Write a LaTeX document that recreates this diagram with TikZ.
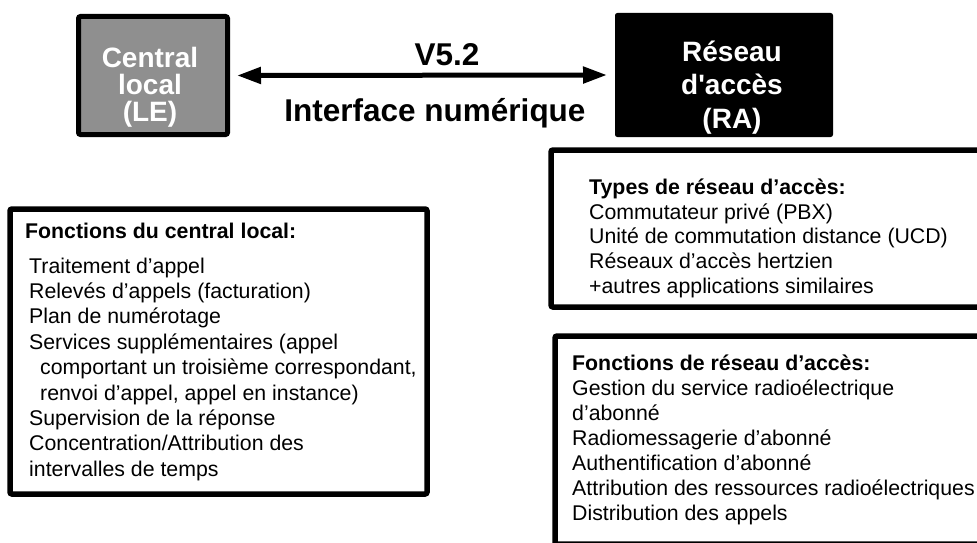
\documentclass[tikz,border=0pt]{standalone}
\usepackage{fontspec}
\setmainfont{Liberation Sans}
\usetikzlibrary{arrows.meta}
\definecolor{legray}{RGB}{143,143,143}
\begin{document}
\begin{tikzpicture}[x=1pt,y=-1pt,
  txt/.style={anchor=base west,inner sep=0pt,font=\fontsize{21.3}{25}\selectfont},
  hdr/.style={anchor=base west,inner sep=0pt,font=\fontsize{21.3}{25}\selectfont\bfseries},
  frame/.style={draw=black,line width=5.5pt,rounded corners=2pt,outer sep=0pt,anchor=north west},
  big/.style={inner sep=0pt,anchor=base,font=\fontsize{31.5}{34}\selectfont\bfseries},
  boxtxt/.style={inner sep=0pt,anchor=base,font=\fontsize{28}{28}\selectfont\bfseries,text=white},
  arr/.style={line width=5pt,{Triangle[length=24pt,width=16pt]}-{Triangle[length=24pt,width=16pt]}}]
\clip (0,0) rectangle (977,543);
\fill[white] (0,0) rectangle (977,543);

% top boxes
\node[draw=black,line width=5pt,fill=legray,rounded corners=2pt,minimum width=149pt,minimum height=118pt,inner sep=0pt] (le) at (153,75.5) {};
\node[draw=black,line width=1pt,fill=black,rounded corners=2pt,minimum width=217pt,minimum height=123pt,inner sep=0pt] (ra) at (724,75) {};

\node[boxtxt] (le1) at (150,67) {Central};
\node[boxtxt] (le2) at (150,95) {local};
\node[boxtxt] (le3) at (150,121) {(LE)};
\node[boxtxt] (ra1) at (732,62) {Réseau};
\node[boxtxt] (ra2) at (732,95) {d\textquotesingle accès};
\node[boxtxt] (ra3) at (732,128) {(RA)};

\draw[arr,shorten <=7pt,shorten >=8pt] (le.east) -- (ra.west);
\node[big] (v52) at (447,66) {V5.2};
\node[big] (iface) at (435,121) {Interface numérique};

% left box
\node[frame,minimum width=417pt,minimum height=285pt] (lcbox) at (10,209) {};
\node[hdr] (lc0) at (25,238) {Fonctions du central local:};
\node[txt] (lc1) at (29,273) {Traitement d’appel};
\node[txt] (lc2) at (29,298.4) {Relevés d’appels (facturation)};
\node[txt] (lc3) at (29,323.8) {Plan de numérotage};
\node[txt] (lc4) at (29,349.2) {Services supplémentaires (appel};
\node[txt] (lc5) at (40,374.6) {comportant un troisième correspondant,};
\node[txt] (lc6) at (40,400) {renvoi d’appel, appel en instance)};
\node[txt] (lc7) at (29,425.4) {Supervision de la réponse};
\node[txt] (lc8) at (29,450.8) {Concentration/Attribution des};
\node[txt] (lc9) at (29,476.2) {intervalles de temps};

% types box
\node[frame,minimum width=449pt,minimum height=157pt] (tybox) at (551,150) {};
\node[hdr] (ty0) at (589,194) {Types de réseau d’accès:};
\node[txt] (ty1) at (589,219) {Commutateur privé (PBX)};
\node[txt] (ty2) at (589,243.7) {Unité de commutation distance (UCD)};
\node[txt] (ty3) at (589,268.4) {Réseaux d’accès hertzien};
\node[txt] (ty4) at (589,293.1) {+autres applications similaires};

% RA functions box
\node[frame,minimum width=450pt,minimum height=208pt] (rfbox) at (555,336) {};
\node[hdr] (rf0) at (572,370) {Fonctions de réseau d’accès:};
\node[txt] (rf1) at (572,395) {Gestion du service radioélectrique};
\node[txt] (rf2) at (572,420) {d’abonné};
\node[txt] (rf3) at (572,445) {Radiomessagerie d’abonné};
\node[txt] (rf4) at (572,470) {Authentification d’abonné};
\node[txt] (rf5) at (572,495) {Attribution des ressources radioélectriques};
\node[txt] (rf6) at (572,520) {Distribution des appels};
\end{tikzpicture}
\end{document}
